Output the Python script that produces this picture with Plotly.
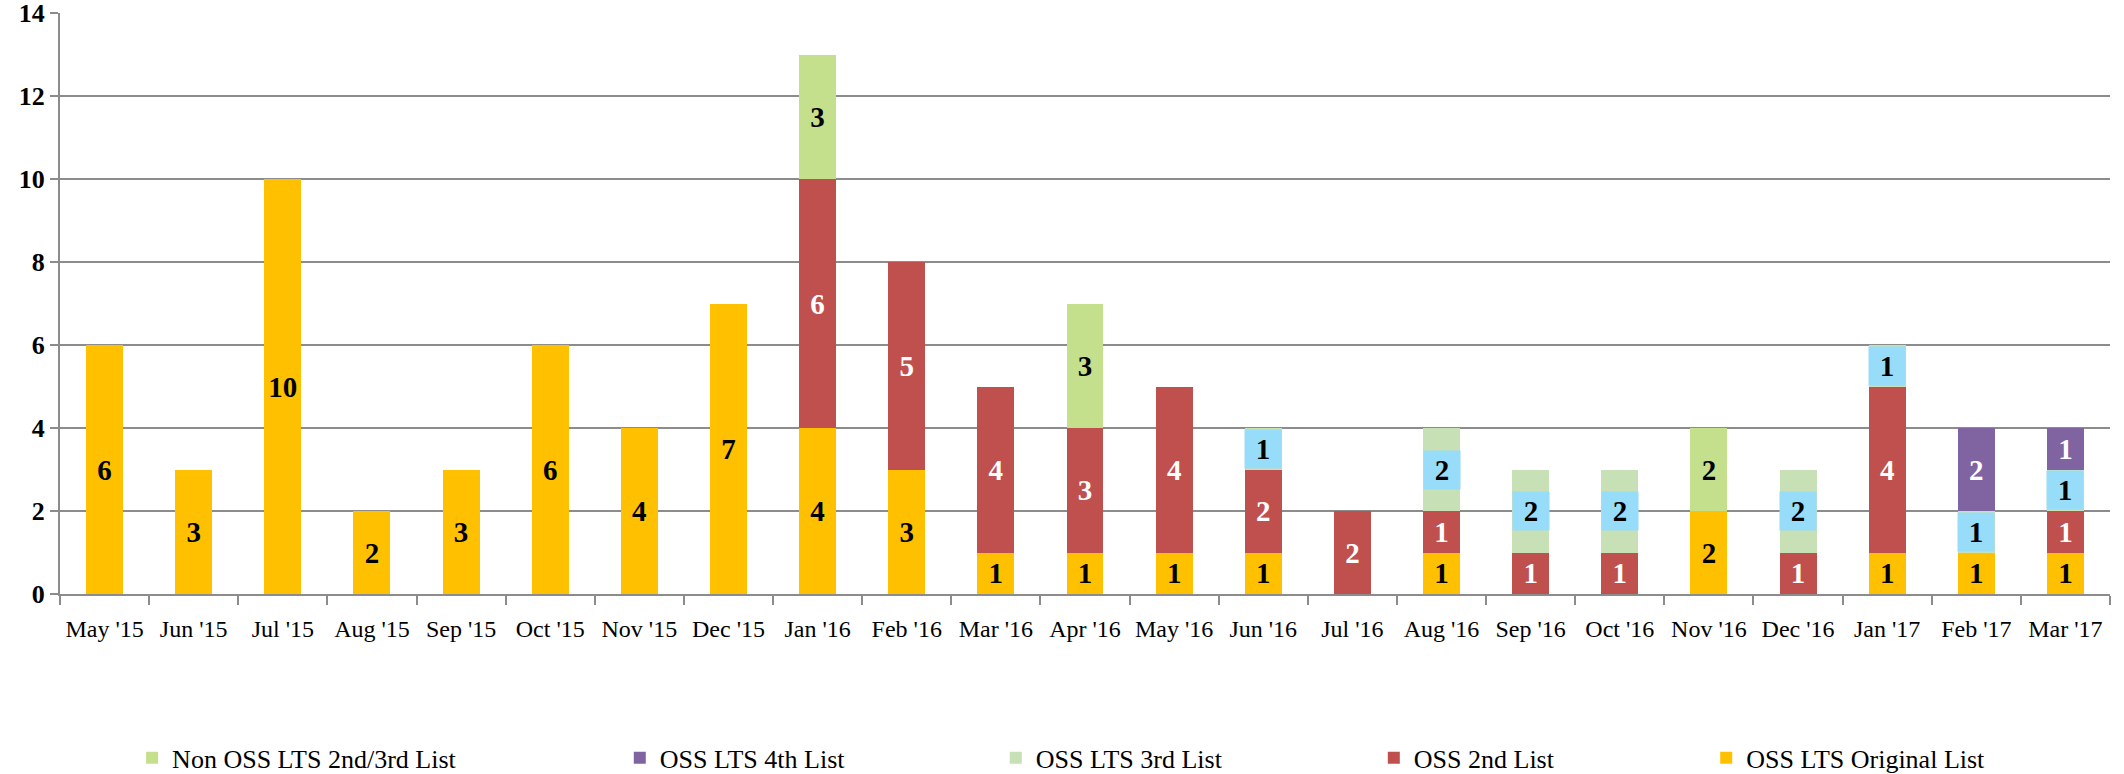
import plotly.graph_objects as go

months = ["May '15", "Jun '15", "Jul '15", "Aug '15", "Sep '15", "Oct '15", "Nov '15", "Dec '15",
          "Jan '16", "Feb '16", "Mar '16", "Apr '16", "May '16", "Jun '16", "Jul '16", "Aug '16",
          "Sep '16", "Oct '16", "Nov '16", "Dec '16", "Jan '17", "Feb '17", "Mar '17"]

oss_original = [6, 3, 10, 2, 3, 6, 4, 7, 4, 3, 1, 1, 1, 1, 0, 1, 0, 0, 2, 0, 1, 1, 1]
oss_2nd      = [0, 0, 0, 0, 0, 0, 0, 0, 6, 5, 4, 3, 4, 2, 2, 1, 1, 1, 0, 1, 4, 0, 1]
oss_3rd      = [0, 0, 0, 0, 0, 0, 0, 0, 0, 0, 0, 0, 0, 1, 0, 2, 2, 2, 0, 2, 1, 1, 1]
oss_4th      = [0, 0, 0, 0, 0, 0, 0, 0, 0, 0, 0, 0, 0, 0, 0, 0, 0, 0, 0, 0, 0, 2, 1]
non_oss      = [0, 0, 0, 0, 0, 0, 0, 0, 3, 0, 0, 3, 0, 0, 0, 0, 0, 0, 2, 0, 0, 0, 0]

series = [
    ("OSS LTS Original List", oss_original, "#FFC000", "black"),
    ("OSS 2nd List", oss_2nd, "#C0504D", "white"),
    ("OSS LTS 3rd List", oss_3rd, "#C8E0B6", None),
    ("OSS LTS 4th List", oss_4th, "#8064A2", "white"),
    ("Non OSS LTS 2nd/3rd List", non_oss, "#C4E08C", "black"),
]
# legend entry positions (container x), right to left as in the reference
legend_x = [0.8033, 0.6468, 0.4688, 0.2918, 0.0622]

SERIF = "Liberation Serif"
fig = go.Figure()
legends = {}
for k, (name, vals, color, tcol) in enumerate(series):
    txt = [str(v) if (v > 0 and tcol) else "" for v in vals]
    lg = "legend%d" % (k + 2)
    fig.add_trace(go.Bar(
        name=name, x=months, y=vals, marker=dict(color=color, line=dict(width=0)),
        text=txt, textposition="inside", insidetextanchor="middle", textangle=0,
        textfont=dict(family=SERIF, size=29, color=tcol or "black", weight="bold"),
        legend=lg,
    ))
    legends[lg] = dict(orientation="h", x=legend_x[k], xanchor="left", xref="container",
                       y=0.021, yanchor="middle", yref="container",
                       font=dict(family=SERIF, size=26, color="black"),
                       itemwidth=30, bgcolor="rgba(0,0,0,0)")

# data labels of the 3rd list series have a light-blue box
annotations = []
for i, m in enumerate(months):
    v = oss_3rd[i]
    if v > 0:
        base = oss_original[i] + oss_2nd[i]
        annotations.append(dict(
            x=m, y=base + v / 2, xref="x", yref="y", text="<b>%d</b>" % v, showarrow=False,
            bgcolor="#97DCF8", width=36, height=38, borderpad=0,
            font=dict(family=SERIF, size=29, color="black"),
        ))

fig.update_layout(
    barmode="stack", bargap=0.585,
    width=2124, height=774,
    margin=dict(l=60, r=14, t=13, b=180, autoexpand=False),
    plot_bgcolor="white", paper_bgcolor="white",
    uniformtext=dict(minsize=29, mode="show"),
    annotations=annotations,
    xaxis=dict(showline=True, linecolor="#8C8C8C", linewidth=2, ticks="outside",
               tickson="boundaries", ticklen=9, tickcolor="#8C8C8C", tickwidth=1.5,
               tickangle=0, automargin=False, ticklabelstandoff=12,
               tickfont=dict(family=SERIF, size=24, color="black"), showgrid=False),
    yaxis=dict(range=[0, 14], tickvals=[0, 2, 4, 6, 8, 10, 12, 14], showline=True,
               linecolor="#8C8C8C", linewidth=2, automargin=False,
               ticklabeloverflow="allow",
               gridcolor="#8C8C8C", gridwidth=2, ticks="outside", ticklen=8,
               tickcolor="#8C8C8C", tickwidth=2, zeroline=False,
               tickfont=dict(family=SERIF, size=26, color="black", weight="bold")),
    **legends,
)

fig.write_html("out.html", config={"displayModeBar": False},
               post_script="document.body.style.margin='0';")
